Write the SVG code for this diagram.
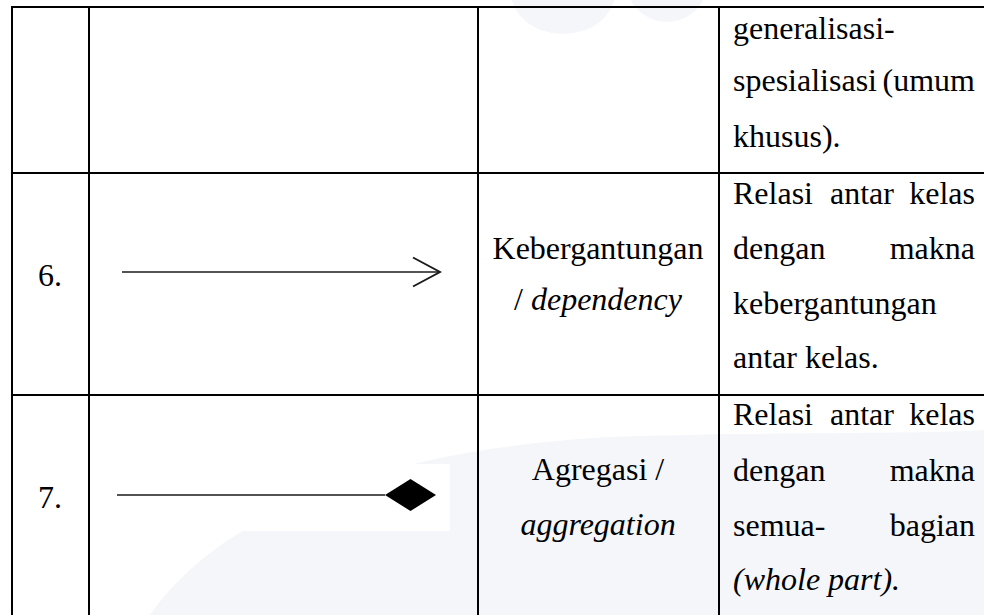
<svg xmlns="http://www.w3.org/2000/svg" width="984" height="615" viewBox="0 0 984 615">
<style>
text{font-family:'Liberation Serif','Times New Roman',serif;font-size:32px;fill:#000}
.i{font-style:italic}
.c{text-anchor:middle}
.e{text-anchor:end}
.grid{stroke:#000;stroke-width:2;fill:none}
.wm{fill:#f4f6fa}
.conn{stroke:#1a1a1a;stroke-width:1.7;fill:none}
</style>
<defs>
<marker id="open-arrow" markerUnits="userSpaceOnUse" markerWidth="32" markerHeight="34" refX="28" refY="16" orient="auto">
<path d="M1,1.5 L28,16 L1,30.5" fill="none" stroke="#1a1a1a" stroke-width="1.9"/>
</marker>
<marker id="diamond" markerUnits="userSpaceOnUse" markerWidth="54" markerHeight="34" refX="1" refY="17" orient="auto">
<path d="M1,17 L26.5,1 L52,17 L26.5,33 Z" fill="#000"/>
</marker>
</defs>
<rect width="984" height="615" fill="#fff"/>
<g id="watermark">
<ellipse class="wm" cx="563" cy="-8" rx="52" ry="42"/>
<ellipse class="wm" cx="667" cy="-22" rx="42" ry="44"/>
<path class="wm" d="M150 615 C 230 500 420 442 640 436 C 800 432 920 434 984 430 L 984 615 Z"/>
<rect x="95" y="464" width="355" height="67" fill="#fff"/>
</g>
<g id="table-grid" class="grid">
<line x1="11" y1="7" x2="984" y2="7"/>
<line x1="11" y1="173" x2="984" y2="173"/>
<line x1="11" y1="395" x2="984" y2="395"/>
<line x1="12" y1="6" x2="12" y2="615"/>
<line x1="89" y1="6" x2="89" y2="615"/>
<line x1="478" y1="6" x2="478" y2="615"/>
<line x1="719" y1="6" x2="719" y2="615"/>
</g>
<g id="row5">
<text x="733" y="39">generalisasi-</text>
<text x="733" y="91">spesialisasi</text>
<text class="e" x="975" y="91">(umum</text>
<text x="733" y="147">khusus).</text>
</g>
<g id="row6">
<text x="38" y="286">6.</text>
<text class="c" x="598" y="259">Kebergantungan</text>
<text class="c" x="598" y="310">/ <tspan class="i">dependency</tspan></text>
<text x="733" y="204">Relasi</text>
<text x="830" y="204">antar</text>
<text class="e" x="975" y="204">kelas</text>
<text x="733" y="259">dengan</text>
<text class="e" x="975" y="259">makna</text>
<text x="733" y="314">kebergantungan</text>
<text x="733" y="368">antar kelas.</text>
</g>
<g id="row7">
<text x="38" y="508">7.</text>
<text class="c" x="598" y="480">Agregasi /</text>
<text class="c i" x="598" y="535">aggregation</text>
<text x="733" y="425">Relasi</text>
<text x="830" y="425">antar</text>
<text class="e" x="975" y="425">kelas</text>
<text x="733" y="481">dengan</text>
<text class="e" x="975" y="481">makna</text>
<text x="733" y="536">semua-</text>
<text class="e" x="975" y="536">bagian</text>
<text class="i" x="733" y="590">(whole part).</text>
</g>
<g id="connectors">
<line id="dependency" class="conn" x1="122" y1="272" x2="440" y2="272" marker-end="url(#open-arrow)"/>
<line id="aggregation" class="conn" x1="117" y1="495" x2="385" y2="495" marker-end="url(#diamond)"/>
</g>
</svg>
